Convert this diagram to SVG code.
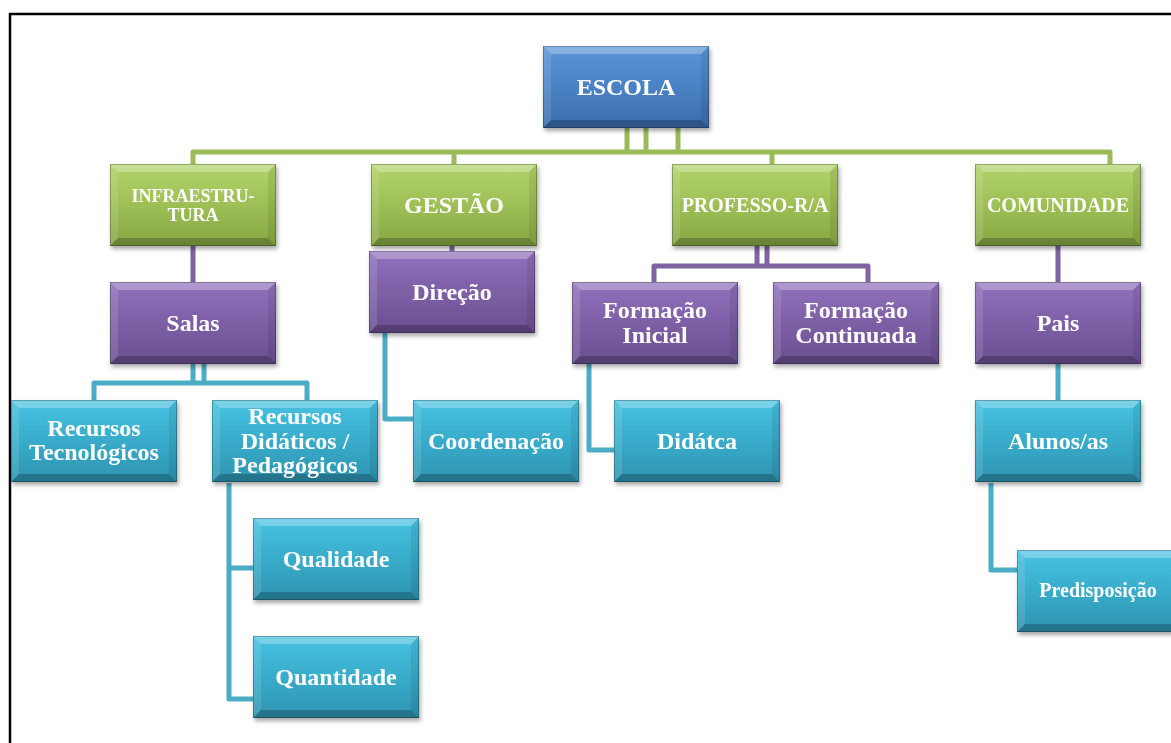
<svg xmlns="http://www.w3.org/2000/svg" xmlns:xlink="http://www.w3.org/1999/xlink" width="1171" height="743" viewBox="0 0 1171 743">
<style>
.txt{font-family:"Liberation Serif","Times New Roman",serif;font-weight:bold;fill:#ffffff;text-anchor:middle}
.f24{font-size:24px}
.f20{font-size:20px}
.f18{font-size:18px}
.cg{fill:none;stroke:#9bbb59;stroke-width:5;stroke-linejoin:round;stroke-linecap:butt}
.cp{fill:none;stroke:#8064a2;stroke-width:5;stroke-linejoin:round}
.cc{fill:none;stroke:#4bacc6;stroke-width:5;stroke-linejoin:round}
.frame{fill:none;stroke:#000000;stroke-width:2.5}
</style>
<defs>
<filter id="sh" x="-10%" y="-10%" width="125%" height="135%">
<feDropShadow dx="1.5" dy="3" stdDeviation="2" flood-color="#000" flood-opacity="0.35"/>
</filter>
<linearGradient id="gBlue" x1="0" y1="0" x2="0" y2="1">
<stop offset="0" stop-color="#5a96d8"/><stop offset="0.5" stop-color="#4a82c4"/><stop offset="1" stop-color="#3a6cab"/>
</linearGradient>
<linearGradient id="gGreen" x1="0" y1="0" x2="0" y2="1">
<stop offset="0" stop-color="#b2d46a"/><stop offset="0.5" stop-color="#9dbf55"/><stop offset="1" stop-color="#86a744"/>
</linearGradient>
<linearGradient id="gPurple" x1="0" y1="0" x2="0" y2="1">
<stop offset="0" stop-color="#9172bd"/><stop offset="0.5" stop-color="#7d5fa6"/><stop offset="1" stop-color="#6a4e90"/>
</linearGradient>
<linearGradient id="gCyan" x1="0" y1="0" x2="0" y2="1">
<stop offset="0" stop-color="#48c2e2"/><stop offset="0.5" stop-color="#38acca"/><stop offset="1" stop-color="#2e93b0"/>
</linearGradient>
<g id="bevel">
<polygon points="0,0 166,0 158,8 8,8" fill="#ffffff" fill-opacity="0.28"/>
<polygon points="0,0 8,8 8,74 0,82" fill="#ffffff" fill-opacity="0.12"/>
<polygon points="166,0 166,82 158,74 158,8" fill="#000000" fill-opacity="0.08"/>
<polygon points="0,82 8,74 158,74 166,82" fill="#000000" fill-opacity="0.22"/>
<rect x="0.5" y="0.5" width="165" height="81" fill="none" stroke="#000000" stroke-opacity="0.25" stroke-width="1"/>
</g>
</defs>
<rect width="1171" height="743" fill="#ffffff"/>
<path class="frame" d="M10 743 V14 H1171"/>

<g id="connectors">
<path class="cg" d="M627 128 V152 M646 128 V152 M678 128 V152 M193 164 V152 H1110 V164 M454 152 V164 M772 152 V164"/>
<path class="cp" d="M193 246 V282 M452 246 V251 M757 246 V266 M767 246 V266 M654 282 V266 H868 V282 M1058 246 V282"/>
<path class="cc" d="M193 364 V383 M204 364 V383 M94 400 V383 H307 V400 M385 333 V419 H413 M589 364 V450 H614 M1058 364 V400 M229 483 V699 H253 M229 568 H253 M991 483 V570 H1017"/>
</g>

<g id="n-escola" transform="translate(543,46)" filter="url(#sh)"><rect width="166" height="82" fill="url(#gBlue)"/><use xlink:href="#bevel"/><text class="txt f24" x="83" y="49">ESCOLA</text></g>

<g id="n-infra" transform="translate(110,164)" filter="url(#sh)"><rect width="166" height="82" fill="url(#gGreen)"/><use xlink:href="#bevel"/><text class="txt f18" x="83" y="38">INFRAESTRU-</text><text class="txt f18" x="83" y="57">TURA</text></g>
<g id="n-gestao" transform="translate(371,164)" filter="url(#sh)"><rect width="166" height="82" fill="url(#gGreen)"/><use xlink:href="#bevel"/><text class="txt f24" x="83" y="49">GESTÃO</text></g>
<g id="n-professor" transform="translate(672,164)" filter="url(#sh)"><rect width="166" height="82" fill="url(#gGreen)"/><use xlink:href="#bevel"/><text class="txt f20" x="83" y="48">PROFESSO-R/A</text></g>
<g id="n-comunidade" transform="translate(975,164)" filter="url(#sh)"><rect width="166" height="82" fill="url(#gGreen)"/><use xlink:href="#bevel"/><text class="txt f20" x="83" y="48">COMUNIDADE</text></g>

<g id="n-salas" transform="translate(110,282)" filter="url(#sh)"><rect width="166" height="82" fill="url(#gPurple)"/><use xlink:href="#bevel"/><text class="txt f24" x="83" y="49">Salas</text></g>
<g id="n-direcao" transform="translate(369,251)" filter="url(#sh)"><rect width="166" height="82" fill="url(#gPurple)"/><use xlink:href="#bevel"/><text class="txt f24" x="83" y="49">Direção</text></g>
<g id="n-finicial" transform="translate(572,282)" filter="url(#sh)"><rect width="166" height="82" fill="url(#gPurple)"/><use xlink:href="#bevel"/><text class="txt f24" x="83" y="36">Formação</text><text class="txt f24" x="83" y="61">Inicial</text></g>
<g id="n-fcontinuada" transform="translate(773,282)" filter="url(#sh)"><rect width="166" height="82" fill="url(#gPurple)"/><use xlink:href="#bevel"/><text class="txt f24" x="83" y="36">Formação</text><text class="txt f24" x="83" y="61">Continuada</text></g>
<g id="n-pais" transform="translate(975,282)" filter="url(#sh)"><rect width="166" height="82" fill="url(#gPurple)"/><use xlink:href="#bevel"/><text class="txt f24" x="83" y="49">Pais</text></g>

<g id="n-rtec" transform="translate(11,400)" filter="url(#sh)"><rect width="166" height="82" fill="url(#gCyan)"/><use xlink:href="#bevel"/><text class="txt f24" x="83" y="36">Recursos</text><text class="txt f24" x="83" y="60">Tecnológicos</text></g>
<g id="n-rdid" transform="translate(212,400)" filter="url(#sh)"><rect width="166" height="82" fill="url(#gCyan)"/><use xlink:href="#bevel"/><text class="txt f24" x="83" y="24">Recursos</text><text class="txt f24" x="83" y="49">Didáticos /</text><text class="txt f24" x="83" y="73">Pedagógicos</text></g>
<g id="n-coord" transform="translate(413,400)" filter="url(#sh)"><rect width="166" height="82" fill="url(#gCyan)"/><use xlink:href="#bevel"/><text class="txt f24" x="83" y="49">Coordenação</text></g>
<g id="n-didatca" transform="translate(614,400)" filter="url(#sh)"><rect width="166" height="82" fill="url(#gCyan)"/><use xlink:href="#bevel"/><text class="txt f24" x="83" y="49">Didátca</text></g>
<g id="n-alunos" transform="translate(975,400)" filter="url(#sh)"><rect width="166" height="82" fill="url(#gCyan)"/><use xlink:href="#bevel"/><text class="txt f24" x="83" y="49">Alunos/as</text></g>

<g id="n-qualidade" transform="translate(253,518)" filter="url(#sh)"><rect width="166" height="82" fill="url(#gCyan)"/><use xlink:href="#bevel"/><text class="txt f24" x="83" y="49">Qualidade</text></g>
<g id="n-quantidade" transform="translate(253,636)" filter="url(#sh)"><rect width="166" height="82" fill="url(#gCyan)"/><use xlink:href="#bevel"/><text class="txt f24" x="83" y="49">Quantidade</text></g>
<g id="n-predisposicao" transform="translate(1017,550)" filter="url(#sh)"><rect width="166" height="82" fill="url(#gCyan)"/><use xlink:href="#bevel"/><text class="txt f20" x="81" y="47">Predisposição</text></g>
</svg>
